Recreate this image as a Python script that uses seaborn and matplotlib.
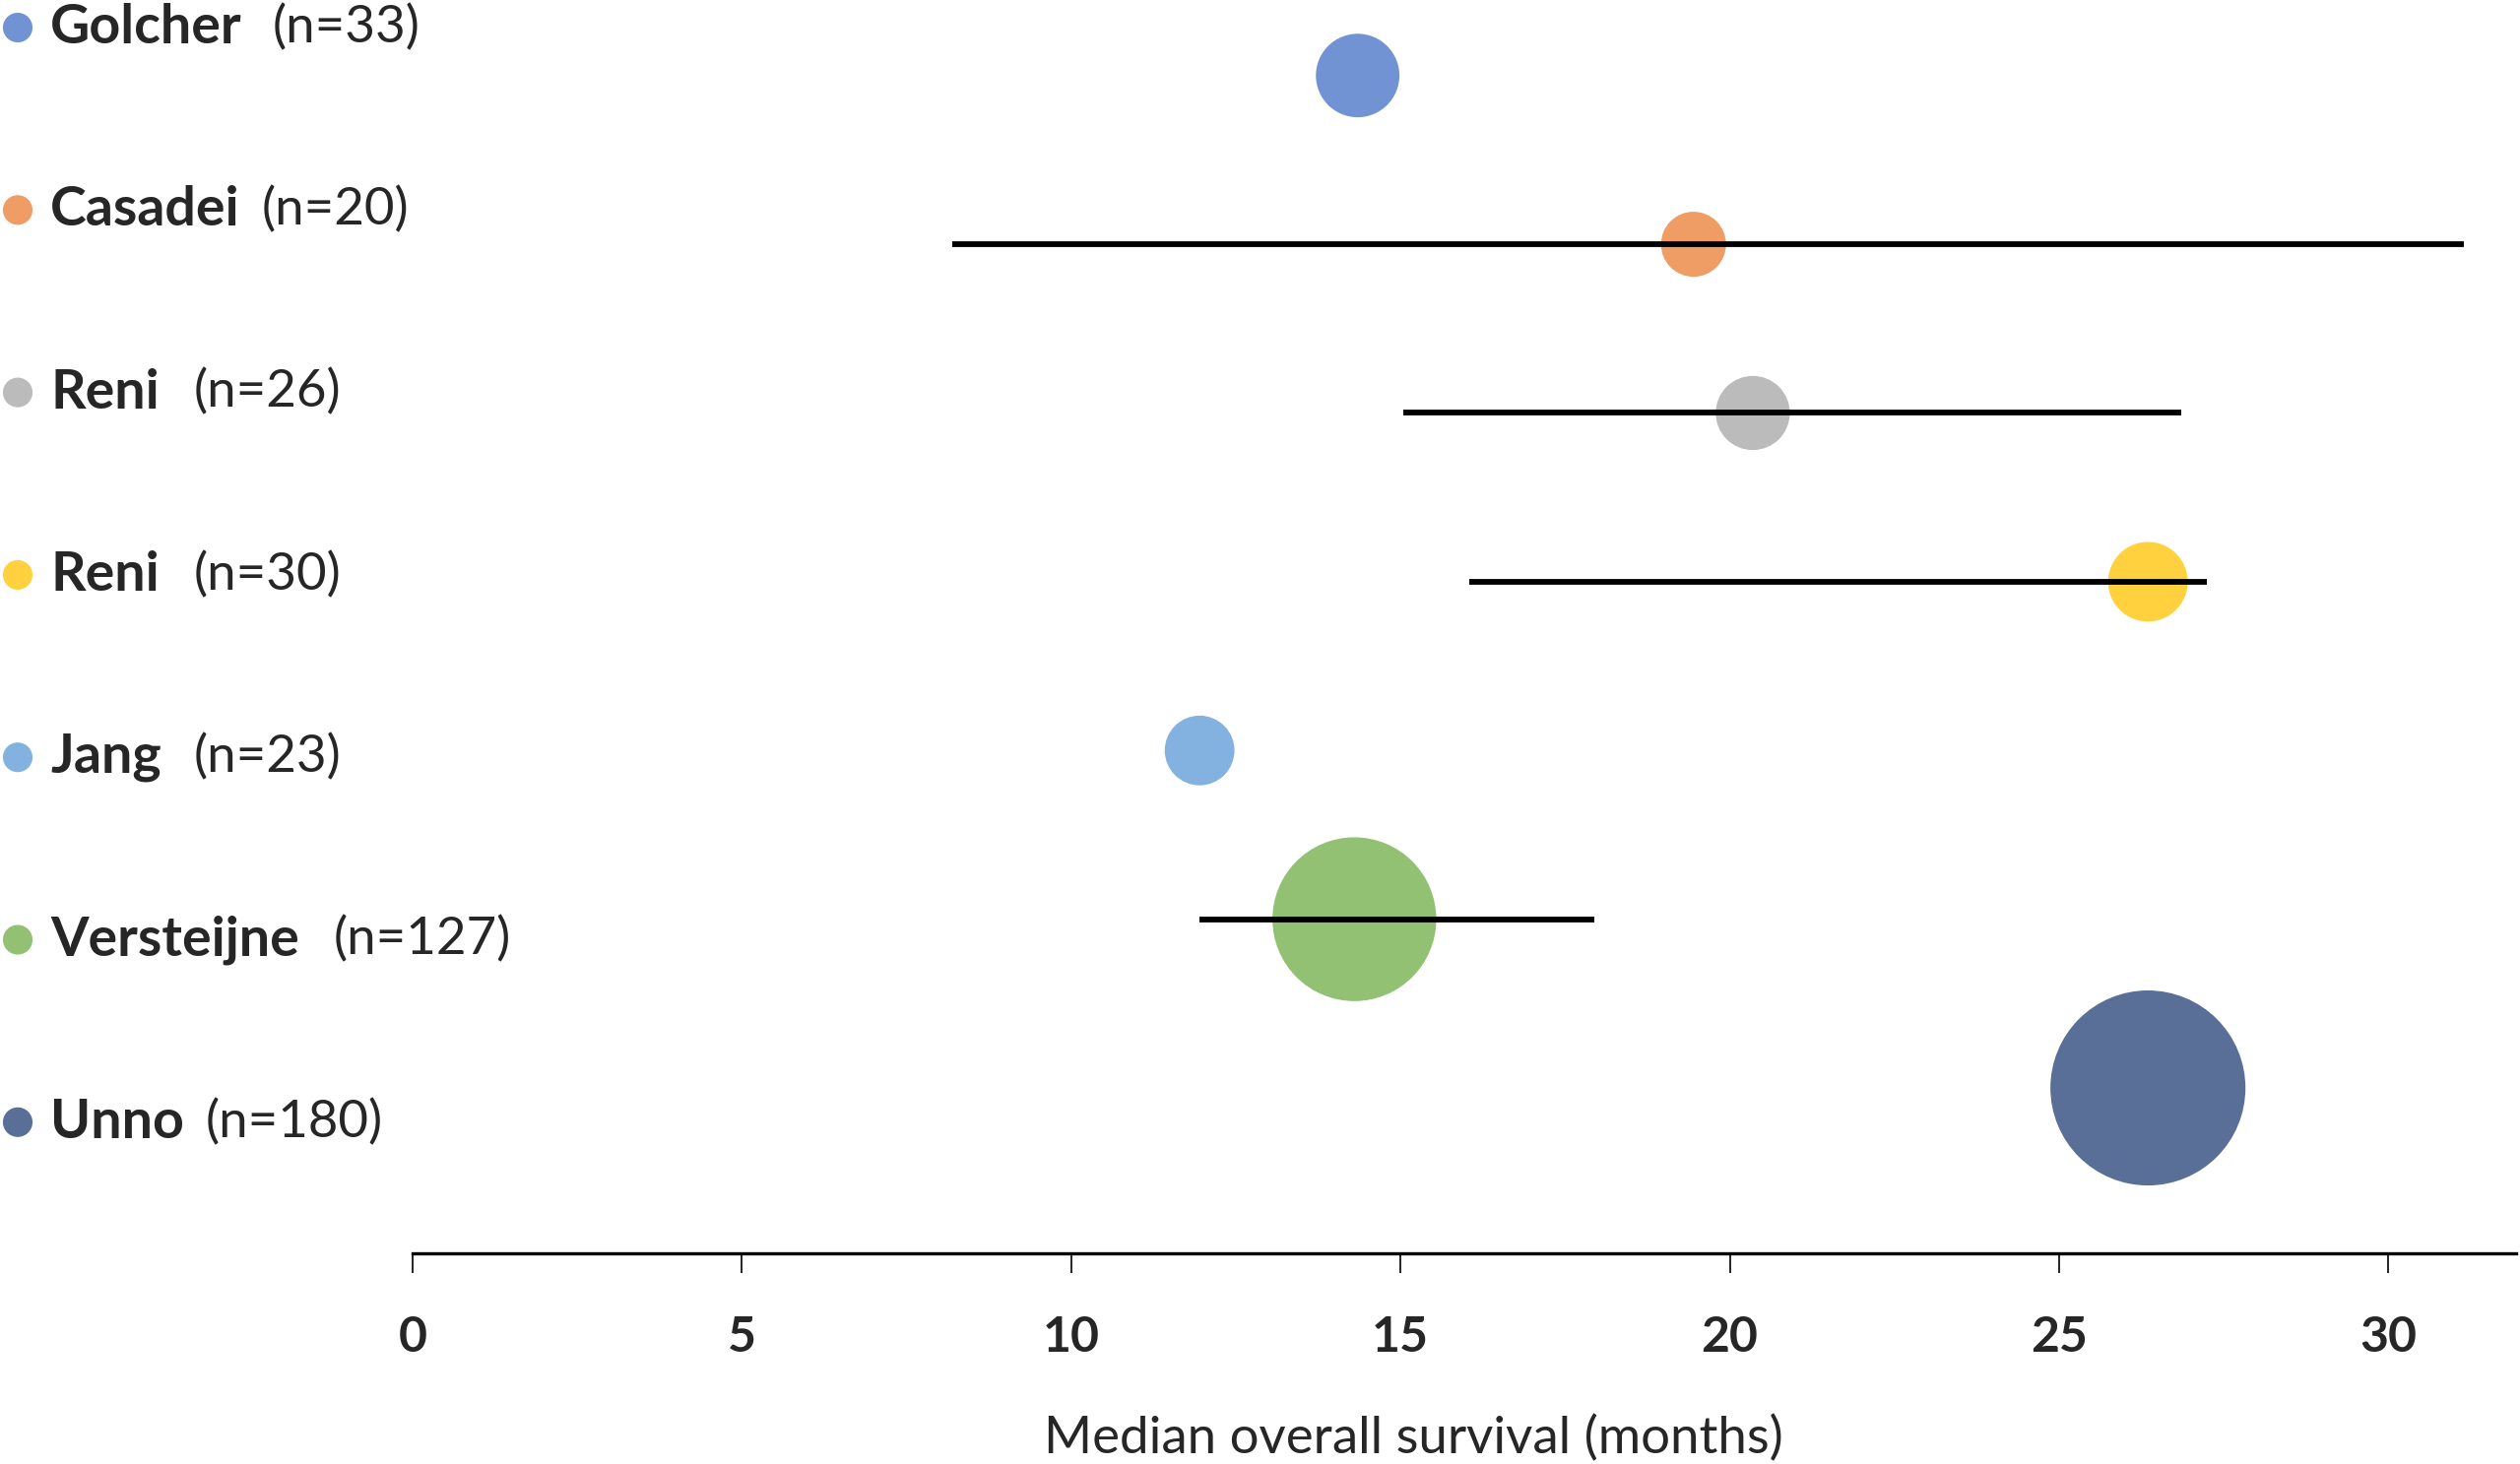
import numpy as np
import pandas as pd
import seaborn as sns
import matplotlib.pyplot as plt

# datos
estudios = ['Golcher', 'Casadei', 'Reni', 'Reni', 'Jang', 'Versteijne', 'Unno']
n_pacientes = [33, 20, 26, 30, 23, 127, 180]
mediana_sg = [14.35, 19.45, 20.35, 26.35, 11.95, 14.3, 26.35]
ic_inf = [np.nan, 8.2, 15.05, 16.05, np.nan, 11.95, np.nan]
ic_sup = [np.nan, 31.15, 26.85, 27.25, np.nan, 17.95, np.nan]
colores = ['#7293D3', '#EF9C65', '#BBBBBB', '#FFD13F', '#84B2E0', '#92C174', '#5A6F97']
ticks_x = [0, 5, 10, 15, 20, 25, 30]

tabla = pd.DataFrame({
    'fila': range(len(estudios)),
    'estudio': estudios,
    'n': n_pacientes,
    'mediana': mediana_sg,
    'ic_inf': ic_inf,
    'ic_sup': ic_sup,
})

sns.set_style("white")
plt.rcParams['font.family'] = ['Lato', 'DejaVu Sans']

W, H = 2559, 1487
fig = plt.figure(figsize=(W / 100, H / 100), dpi=100)

# panel principal (burbujas)
ax = fig.add_axes([419 / W, (H - 1273) / H, (2555 - 419) / W, 1273 / H])
sns.scatterplot(data=tabla, x='mediana', y='fila', hue='fila', palette=colores,
                size='n', sizes=(0, 113 * 180), size_norm=(0, 180),
                linewidth=0, alpha=1, legend=False, ax=ax, zorder=2)

con_ic = tabla.dropna(subset=['ic_inf'])
ax.hlines(con_ic['fila'], con_ic['ic_inf'], con_ic['ic_sup'],
          color='black', linewidth=4.2, zorder=3)

ax.set_xlim(0, 31.94)
ax.set_ylim(6.98, -0.4475)
ax.set_xticks(ticks_x)
ax.set_xticklabels([str(t) for t in ticks_x], fontsize=36, fontweight='bold')
ax.set_yticks([])
ax.set_ylabel('')
ax.set_xlabel('Median overall survival (months)', fontsize=38)
ax.xaxis.set_label_coords(0.476, -0.129)
for lado in ['left', 'right', 'top']:
    ax.spines[lado].set_visible(False)
ax.spines['bottom'].set_linewidth(2.4)
ax.spines['bottom'].set_color('black')
ax.tick_params(axis='x', direction='out', length=14.4, width=1.2,
               color='black', pad=31, bottom=True)

# columna de etiquetas a la izquierda
ax_lab = fig.add_axes([0, 0, 1, 1])
ax_lab.set_xlim(0, W)
ax_lab.set_ylim(H, 0)
ax_lab.axis('off')
ax_lab.patch.set_alpha(0)

tabla['y_lab'] = 28 + tabla['fila'] * 185.3
x_n = [277, 266, 197, 197, 197, 339, 209]
sns.scatterplot(data=tabla, x=np.full(len(tabla), 18.0), y='y_lab', hue='fila',
                palette=colores, s=470, linewidth=0, legend=False, ax=ax_lab)
for i, fila in tabla.iterrows():
    ax_lab.text(51, fila['y_lab'], fila['estudio'], fontsize=40, fontweight='bold',
                va='center', ha='left')
    ax_lab.text(x_n[i], fila['y_lab'], f"(n={fila['n']})", fontsize=38,
                va='center', ha='left')

fig.savefig('out.png', dpi=100)
